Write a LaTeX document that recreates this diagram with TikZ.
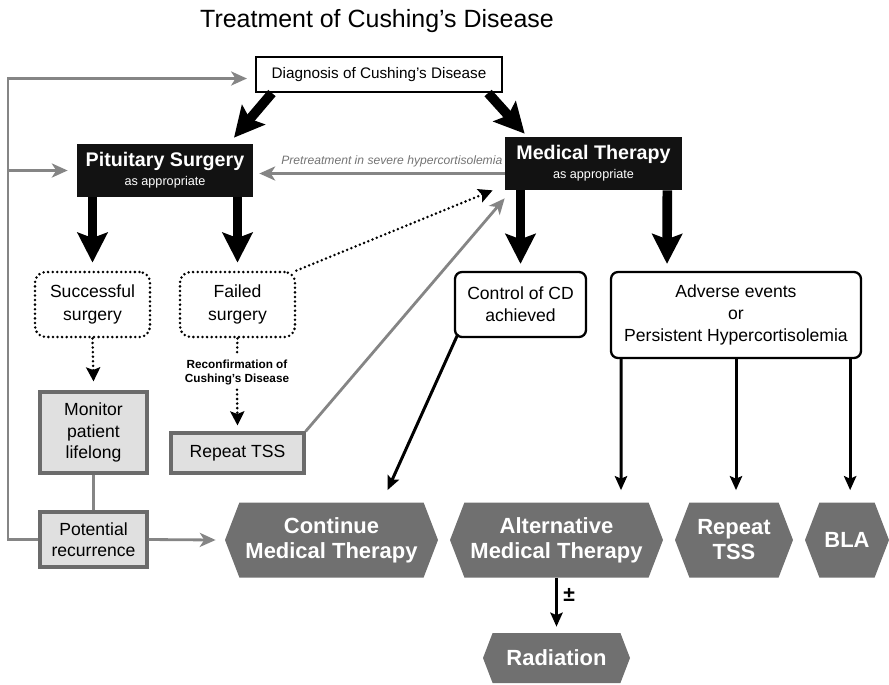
\documentclass[tikz,border=0pt]{standalone}
\usepackage{fontspec}
\setmainfont{Liberation Sans}
\usetikzlibrary{arrows.meta,calc,shapes.symbols}

\definecolor{linegray}{HTML}{858585}
\definecolor{boxgray}{HTML}{E0E0E0}
\definecolor{hexgray}{HTML}{707070}

\tikzset{
  boxsize/.style 2 args={minimum width=#1*0.02cm, minimum height=#2*0.02cm},
  plainbox/.style={draw, line width=1.2pt, fill=white, font=\fontsize{8.7}{10}\selectfont},
  blackbox/.style={fill=black!93, text=white, font=\bfseries\fontsize{11.2}{12}\selectfont},
  dotbox/.style={draw, rounded corners=6pt, line width=1.6pt, dash pattern=on 0pt off 2.6pt, line cap=round, font=\fontsize{10}{13}\selectfont},
  roundbox/.style={draw, rounded corners=4pt, line width=1.3pt, font=\fontsize{10}{12.5}\selectfont},
  graybox/.style={draw=black!58, fill=boxgray, line width=1.8pt, font=\fontsize{10}{12}\selectfont},
  hexbox/.style={signal, signal to=west and east, signal pointer angle=138, fill=hexgray, text=white, font=\bfseries\fontsize{12.5}{14.2}\selectfont},
  thickarrow/.style={line width=5.5pt, -{Stealth[length=17pt,width=17pt,inset=3pt]}},
  blkarrow/.style={line width=1.7pt, -{Stealth[length=8pt,width=7pt,inset=1.5pt]}},
  grayline/.style={draw=linegray, line width=1.6pt},
  grayarrow/.style={grayline, -{Stealth[length=9pt,width=8pt,inset=2.5pt]}},
  dotline/.style={line width=1.6pt, dash pattern=on 0pt off 2.6pt, line cap=round},
  dotarrow/.style={dotline, -{Stealth[length=8pt,width=8pt,inset=1.5pt]}},
}

\begin{document}
\begin{tikzpicture}[x=0.02cm, y=-0.02cm, every node/.style={align=center, inner sep=0pt}]
\useasboundingbox (0,0) rectangle (889,684);

\node[font=\fontsize{14.2}{16}\selectfont] (ttl) at (377,21) {Treatment of Cushing's Disease};

% top row
\node[plainbox, boxsize={246}{35}] (diag) at (379,74.5) {Diagnosis of Cushing's Disease};
\node[blackbox, boxsize={176}{53}] (psurg) at (165,170.5) {Pituitary Surgery\\[-1pt]{\mdseries\fontsize{7.2}{8}\selectfont as appropriate}};
\node[blackbox, boxsize={177}{53}] (mther) at (593.5,163.5) {Medical Therapy\\[-1pt]{\mdseries\fontsize{7.2}{8}\selectfont as appropriate}};

% outcomes
\node[dotbox, boxsize={115}{65}] (succ) at (92.5,304.5) {Successful\\surgery};
\node[dotbox, boxsize={115}{65}] (fail) at (237.5,304.5) {Failed\\surgery};
\node[roundbox, boxsize={131}{65}] (ctrl) at (520.5,304.5) {Control of CD\\achieved};
\node[roundbox, boxsize={250}{86}] (adv) at (736,315) {Adverse events\\or\\Persistent Hypercortisolemia};

\node[graybox, boxsize={107}{81}] (monit) at (93.5,432.5) {Monitor\\patient\\lifelong};
\node[font=\bfseries\fontsize{6.7}{8.5}\selectfont] (recon) at (237,372.5) {Reconfirmation of\\Cushing's Disease};
\node[graybox, boxsize={133}{40}] (rtss) at (237.5,453) {Repeat TSS};
\node[graybox, boxsize={107}{55}] (recur) at (93.5,539.5) {Potential\\recurrence};

% treatments
\node[hexbox, boxsize={213}{75}] (cont) at (331.5,540) {Continue\\Medical Therapy};
\node[hexbox, boxsize={213}{75}] (alt) at (556.5,540) {Alternative\\Medical Therapy};
\node[hexbox, boxsize={118}{75}] (rep) at (734,540) {Repeat\\TSS};
\node[hexbox, boxsize={84}{75}] (bla) at (847,540) {BLA};
\node[hexbox, boxsize={147}{50}] (rad) at (556.5,658) {Radiation};

% connectors
\draw[thickarrow] ($(diag.south west)+(17,0)$) -- ($(psurg.north)+(69,-6)$);
\draw[thickarrow] ($(diag.south east)+(-15,0)$) -- ($(mther.north west)+(20,-3)$);
\draw[thickarrow] (psurg.south -| succ) -- ($(succ.north)+(0,-8)$);
\draw[thickarrow] (psurg.south -| fail) -- ($(fail.north)+(0,-8)$);
\draw[thickarrow] (mther.south -| ctrl) -- ($(ctrl.north)+(0,-7)$);
\draw[thickarrow] ($(mther.south east)+(-15,0)$) -- ($(adv.north)+(-69,-7)$);

\coordinate (pt) at ($(mther.west)+(0,10)$);
\draw[grayarrow] (pt) -- node[above=3pt, pos=0.46, text=black!55, font=\itshape\fontsize{6.9}{8}\selectfont] {Pretreatment in severe hypercortisolemia} ($(psurg.east |- pt)+(6,0)$);

\coordinate (rail) at (8,0);
\draw[grayarrow] (recur.west) -- (recur.west -| rail) -- ($(diag.west -| rail)+(0,4)$) -- ($(diag.west)+(-8,4)$);
\draw[grayarrow] (psurg.west -| rail) -- ($(psurg.west)+(-9,0)$);
\draw[grayarrow] (recur.east) -- ($(cont.west)+(-9,0)$);
\draw[grayline] (monit.south) -- (recur.north);

\draw[dotarrow] (succ.south) -- ($(monit.north)+(0,-9)$);
\draw[dotline] (fail.south) -- ($(recon.north)+(0,-5)$);
\draw[dotarrow] ($(recon.south)+(0,4)$) -- ($(rtss.north)+(0,-6)$);
\draw[dotarrow] (fail.north east) -- ($(mther.south west)+(-12,0)$);
\draw[grayarrow] (rtss.north east) -- ($(mther.south west)+(0,8)$);

\draw[blkarrow] ($(ctrl.south west)+(4,-4)$) -- ($(cont.north)+(56,-12)$);
\draw[blkarrow] ($(adv.south)+(-115,0)$) -- ($(alt.north)+(64.5,-12)$);
\draw[blkarrow] (adv.south) -- ($(adv.south |- rep.north)+(0,-12)$);
\draw[blkarrow] ($(adv.south east)+(-12,0)$) -- ($(adv.south east |- bla.north)+(-12,-12)$);
\draw[blkarrow] (alt.south) -- node[right=3pt, pos=0.35, font=\bfseries\fontsize{12}{12}\selectfont] {±} ($(rad.north)+(0,-6)$);
\end{tikzpicture}
\end{document}
